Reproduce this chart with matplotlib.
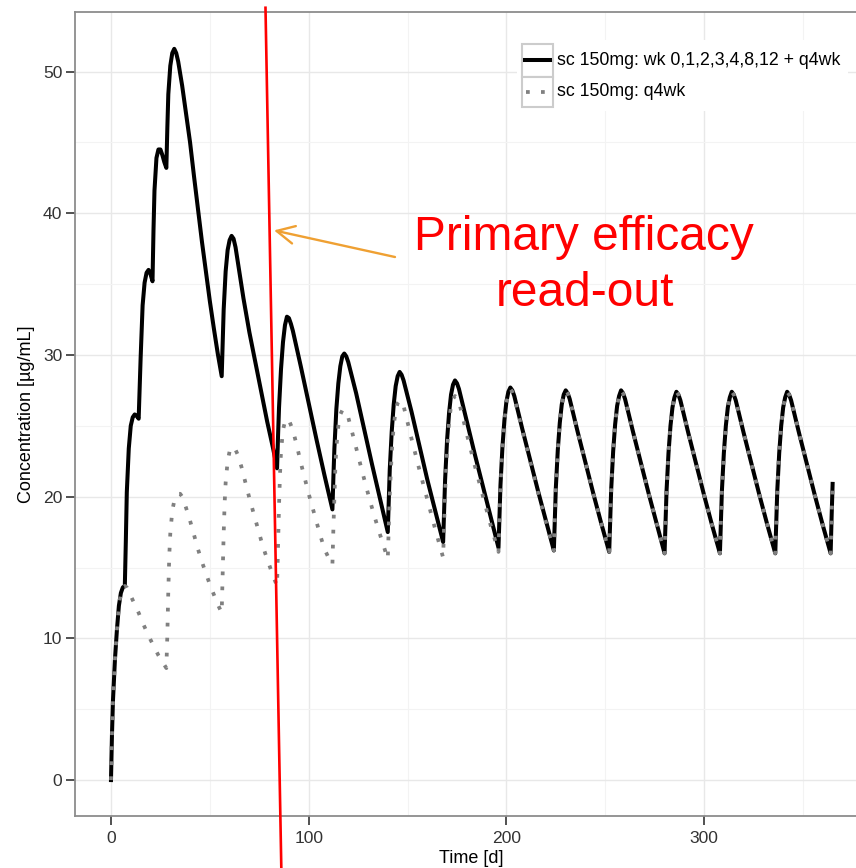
import matplotlib
matplotlib.use("Agg")
import matplotlib.pyplot as plt
from matplotlib.patches import Rectangle
from matplotlib.lines import Line2D

plt.rcParams['font.family'] = ['Liberation Sans', 'DejaVu Sans']

# ---------------- data ----------------
# loading regimen: wk 0,1,2,3,4,8,12 then q4wk  (up to day 220)
time_loading = [0, 0.5, 1, 2, 3, 4, 5, 6, 7,
                7.5, 8, 9, 10, 11, 12, 13, 14,
                14.5, 15, 16, 17, 18, 19, 20, 21,
                21.5, 22, 23, 24, 25, 26, 27, 28,
                28.5, 29, 30, 31, 32, 33, 34, 36, 38, 40, 42, 44, 46, 48, 50, 52, 54, 56,
                56.5, 57, 58, 59, 60, 61, 62, 63, 65, 67, 70, 73, 76, 79, 82, 84,
                84.5, 85, 86, 87, 88, 89, 90, 91, 92, 96, 100, 104, 108, 112,
                112.5, 113, 114, 115, 116, 117, 118, 119, 120, 124, 128, 132, 136, 140,
                140.5, 141, 142, 143, 144, 145, 146, 147, 148, 152, 156, 160, 164, 168,
                168.5, 169, 170, 171, 172, 173, 174, 175, 176, 180, 184, 188, 192, 196,
                196.5, 197, 198, 199, 200, 201, 202, 203, 204, 208, 212, 216, 220]
conc_loading = [0, 3.2, 5.6, 8.5, 10.6, 12.3, 13.2, 13.6, 13.7,
                16.8, 20.3, 23.4, 25.0, 25.6, 25.8, 25.7, 25.5,
                27.6, 29.8, 33.5, 35.1, 35.8, 36.0, 35.7, 35.2,
                38.8, 41.6, 43.9, 44.5, 44.5, 44.1, 43.6, 43.2,
                46.0, 48.4, 50.4, 51.3, 51.6, 51.3, 50.7, 49.0, 47.0, 45.0, 42.6, 40.3, 38.0, 35.9, 33.8, 31.9, 30.1, 28.5,
                30.8, 33.2, 35.9, 37.4, 38.1, 38.4, 38.2, 37.6, 35.8, 34.0, 31.6, 29.5, 27.4, 25.3, 23.4, 22.0,
                24.3, 26.3, 29.0, 30.9, 32.1, 32.7, 32.6, 32.2, 31.7, 29.2, 26.6, 24.0, 21.5, 19.1,
                21.4, 23.4, 26.2, 28.0, 29.2, 29.9, 30.1, 29.9, 29.5, 27.3, 24.8, 22.3, 19.9, 17.5,
                19.8, 21.9, 24.6, 26.5, 27.8, 28.5, 28.8, 28.6, 28.2, 26.0, 23.6, 21.2, 19.0, 16.8,
                19.1, 21.2, 24.0, 25.9, 27.2, 27.9, 28.2, 28.0, 27.6, 25.3, 23.0, 20.8, 18.6, 16.4,
                18.7, 20.8, 23.5, 25.4, 26.7, 27.4, 27.7, 27.5, 27.1, 24.8, 22.6, 20.4, 18.3]

# q4wk regimen (up to day 220)
time_q4wk = [0, 0.5, 1, 2, 3, 4, 5, 6, 7, 8, 11, 14, 17, 20, 24, 28,
             28.5, 29, 29.5, 30, 31, 32, 33, 34, 35, 36, 38, 40, 42, 44, 46, 48, 50, 52, 54, 56,
             56.5, 57, 57.5, 58, 59, 60, 61, 62, 63, 64, 66, 68, 70, 72, 74, 76, 78, 80, 82, 84,
             84.5, 85, 85.5, 86, 87, 88, 89, 90, 92, 94, 96, 98, 100, 102, 104, 106, 108, 110, 112,
             112.5, 113, 113.5, 114, 115, 116, 117, 118, 119, 120, 123, 127, 131, 135, 140,
             140.5, 141, 142, 143, 144, 145, 146, 147, 148, 152, 156, 160, 164, 168,
             168.5, 169, 170, 171, 172, 173, 174, 175, 176, 180, 184, 188, 192, 196,
             196.5, 197, 198, 199, 200, 201, 202, 203, 204, 208, 212, 216, 220]
conc_q4wk = [0, 3.2, 5.6, 8.5, 10.6, 12.3, 13.2, 13.6, 13.7, 13.6, 12.7, 11.8, 10.8, 9.9, 8.8, 7.9,
             10.2, 13.4, 15.9, 17.4, 19.0, 19.7, 20.0, 20.2, 20.2, 20.0, 19.2, 18.3, 17.3, 16.3, 15.4, 14.6, 13.8, 13.1, 12.4, 11.8,
             14.6, 17.4, 19.6, 21.0, 22.5, 23.2, 23.5, 23.5, 23.3, 23.0, 22.1, 21.0, 19.9, 18.9, 17.9, 16.9, 16.0, 15.2, 14.4, 13.7,
             16.6, 19.4, 21.6, 23.2, 24.7, 25.3, 25.5, 25.4, 24.7, 23.6, 22.4, 21.3, 20.2, 19.2, 18.2, 17.2, 16.3, 15.7, 15.2,
             17.8, 20.0, 22.1, 23.5, 25.0, 25.8, 26.1, 26.1, 25.9, 25.6, 24.0, 21.8, 19.7, 17.8, 15.6,
             17.9, 20.1, 23.1, 25.0, 26.1, 26.6, 26.8, 26.7, 26.4, 24.1, 21.9, 19.8, 17.7, 15.7,
             18.1, 20.3, 23.3, 25.3, 26.4, 26.9, 27.1, 27.0, 26.7, 24.4, 22.2, 20.1, 18.0, 16.1,
             18.5, 20.6, 23.4, 25.3, 26.6, 27.3, 27.6, 27.4, 27.0, 24.7, 22.5, 20.3, 18.2]

# steady state, shared by both regimens (day 224 onward)
time_steady = [224, 224.5, 225, 226, 227, 228, 229, 230, 231, 232, 236, 240, 244, 248,
               252, 252.5, 253, 254, 255, 256, 257, 258, 259, 260, 264, 268, 272, 276,
               280, 280.5, 281, 282, 283, 284, 285, 286, 287, 288, 292, 296, 300, 304,
               308, 308.5, 309, 310, 311, 312, 313, 314, 315, 316, 320, 324, 328, 332,
               336, 336.5, 337, 338, 339, 340, 341, 342, 343, 344, 348, 352, 356, 360,
               364, 364.5, 365]
conc_steady = [16.2, 18.5, 20.6, 23.3, 25.2, 26.5, 27.2, 27.5, 27.3, 26.9, 24.6, 22.4, 20.2, 18.1,
               16.1, 18.4, 20.5, 23.2, 25.1, 26.4, 27.1, 27.5, 27.3, 26.9, 24.6, 22.4, 20.2, 18.1,
               16.0, 18.3, 20.4, 23.1, 25.0, 26.3, 27.0, 27.4, 27.2, 26.8, 24.5, 22.3, 20.1, 18.0,
               16.0, 18.3, 20.4, 23.1, 25.0, 26.3, 27.0, 27.4, 27.2, 26.8, 24.5, 22.3, 20.1, 18.0,
               16.0, 18.3, 20.4, 23.1, 25.0, 26.3, 27.0, 27.4, 27.2, 26.8, 24.5, 22.3, 20.1, 18.0,
               16.0, 18.6, 20.9]

series_labels = ["sc 150mg: wk 0,1,2,3,4,8,12 + q4wk", "sc 150mg: q4wk"]
x_ticks = [0, 100, 200, 300]
y_ticks = [0, 10, 20, 30, 40, 50]
x_label = "Time [d]"
y_label = "Concentration [µg/mL]"
annot_lines = ["Primary efficacy", "read-out"]
readout_line_x = [78.15, 86.15]   # slanted red marker (top -> bottom)
readout_line_y = [54.5, -6.2]

# ---------------- figure ----------------
W, H = 856, 868
fig = plt.figure(figsize=(W / 100, H / 100), dpi=100)
L, R, T, B = 75, 868, 12, 815.5
ax = fig.add_axes([L / W, 1 - B / H, (R - L) / W, (B - T) / H])
ax.set_xlim(-18.2, 382.9)
ax.set_ylim(-2.5, 54.2)

ax.set_xticks(x_ticks)
ax.set_yticks(y_ticks)
ax.set_xticks([50, 150, 250, 350], minor=True)
ax.set_yticks([5, 15, 25, 35, 45], minor=True)
ax.grid(True, which='major', color='#E8E8E8', lw=1.0)
ax.grid(True, which='minor', color='#F3F3F3', lw=0.8)
ax.set_axisbelow(True)
ax.tick_params(which='minor', length=0)
ax.tick_params(which='major', length=6.2, width=1.2, color='#333333',
               labelsize=12.6, labelcolor='#333333')
ax.tick_params(axis='x', pad=5)
ax.tick_params(axis='y', pad=3)
for s in ax.spines.values():
    s.set_color('#8C8C8C')
    s.set_linewidth(1.3)

ax.set_xlabel(x_label, fontsize=13, labelpad=3)
ax.set_ylabel(y_label, fontsize=13, labelpad=6)

x_load = time_loading + time_steady
y_load = conc_loading + conc_steady
x_q4 = time_q4wk + time_steady
y_q4 = conc_q4wk + conc_steady
ax.plot(x_load, y_load, color='black', lw=2.9, solid_joinstyle='round', zorder=3)
ax.plot(x_q4, y_q4, color='#808080', lw=2.7, linestyle=(0, (1, 3)),
        dash_capstyle='butt', zorder=4)

# red read-out marker
ax.plot(readout_line_x, readout_line_y, color='#FF0000', lw=1.9, clip_on=False, zorder=6)

# orange arrow + annotation text
ax.annotate('', xy=(82.45, 38.79), xytext=(143.65, 36.91),
            arrowprops=dict(arrowstyle='->,head_length=0.4,head_width=0.2',
                            color='#EFA032', lw=1.7, mutation_scale=32,
                            shrinkA=0, shrinkB=0), zorder=6)
ax.text(239.3, 37.43, annot_lines[0], color='#FF0000', fontsize=34.5,
        ha='center', va='baseline', zorder=7)
ax.text(239.8, 33.47, annot_lines[1], color='#FF0000', fontsize=34.5,
        ha='center', va='baseline', zorder=7)

# legend (ggplot style key boxes)
def px(x, y):
    return (x / W, 1 - y / H)

tf = fig.transFigure
bx0, by0 = px(517, 111)
bx1, by1 = px(848, 40)
fig.patches.append(Rectangle((bx0, by0), bx1 - bx0, by1 - by0, transform=tf,
                             facecolor='white', edgecolor='none', zorder=8))
key_top = [44, 76.7]
key_h = [32.7, 30.6]
for i, lab in enumerate(series_labels):
    x0, y0 = px(521.7, key_top[i] + key_h[i])
    x1, y1 = px(553.3, key_top[i])
    fig.patches.append(Rectangle((x0, y0), x1 - x0, y1 - y0, transform=tf,
                                 facecolor='white', edgecolor='#CCCCCC', lw=1.5, zorder=9))
    yc = key_top[i] + key_h[i] / 2
    if i == 0:
        fig.lines.append(Line2D([525 / W, 550 / W], [1 - yc / H] * 2, transform=tf,
                                color='black', lw=2.9, zorder=10))
    else:
        fig.lines.append(Line2D([525.5 / W, 552 / W], [1 - yc / H] * 2, transform=tf,
                                color='#808080', lw=2.7, linestyle=(0, (1, 3)),
                                dash_capstyle='butt', zorder=10))
    fig.text(557 / W, 1 - yc / H, lab, fontsize=12.8, color='black',
             ha='left', va='center', zorder=10)

fig.savefig('out.png', dpi=100)
